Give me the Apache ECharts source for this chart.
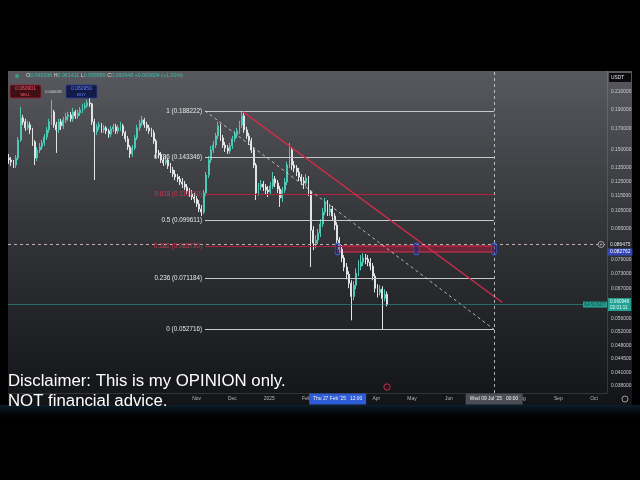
<!DOCTYPE html>
<html><head><meta charset="utf-8">
<script src="https://cdn.jsdelivr.net/npm/echarts@6/dist/echarts.min.js"></script>
<style>html,body{margin:0;padding:0;background:#000;}#c{width:640px;height:480px;}</style>
</head><body><div id="c"></div>
<script>
// ---------- DATA ----------
const candleStart = [2024, 5, 27];   // first candle date (y, m, d)
const candleStepDays = 2;            // 2-day candles
// [open, close, low, high]
const candles = [
[0.1431,0.1414,0.1382,0.1465],[0.1414,0.1398,0.1366,0.1439],[0.1398,0.1373,0.1350,0.1414],[0.1373,0.1431,0.1350,0.1456],
[0.1431,0.1589,0.1414,0.1617],[0.1589,0.1807,0.1571,0.1926],[0.1807,0.1766,0.1735,0.1839],[0.1766,0.1705,0.1675,0.1797],
[0.1705,0.1735,0.1685,0.1776],[0.1735,0.1685,0.1646,0.1766],[0.1685,0.1571,0.1535,0.1705],[0.1571,0.1431,0.1373,0.1589],
[0.1431,0.1499,0.1406,0.1526],[0.1499,0.1526,0.1473,0.1562],[0.1526,0.1562,0.1499,0.1589],[0.1562,0.1617,0.1535,0.1646],
[0.1617,0.1685,0.1589,0.1715],[0.1685,0.1766,0.1656,0.1797],[0.1766,0.1871,0.1735,0.2007],[0.1871,0.1735,0.1705,0.1893],
[0.1735,0.1685,0.1473,0.1766],[0.1685,0.1766,0.1656,0.1797],[0.1766,0.1725,0.1685,0.1797],[0.1725,0.1786,0.1695,0.1818],
[0.1786,0.1818,0.1755,0.1860],[0.1818,0.1839,0.1776,0.1871],[0.1839,0.1797,0.1766,0.1871],[0.1797,0.1871,0.1766,0.1915],
[0.1871,0.1828,0.1797,0.1893],[0.1828,0.1860,0.1797,0.1893],[0.1860,0.1893,0.1828,0.1926],[0.1893,0.1926,0.1860,0.1961],
[0.1926,0.1938,0.1893,0.1972],[0.1938,0.1972,0.1915,0.2007],[0.1972,0.1961,0.1926,0.2031],[0.1961,0.1766,0.1735,0.1972],
[0.1766,0.1666,0.1258,0.1797],[0.1666,0.1715,0.1636,0.1745],[0.1715,0.1735,0.1685,0.1766],[0.1735,0.1685,0.1656,0.1755],
[0.1685,0.1705,0.1656,0.1735],[0.1705,0.1675,0.1646,0.1725],[0.1675,0.1646,0.1608,0.1695],[0.1646,0.1695,0.1617,0.1725],
[0.1695,0.1715,0.1666,0.1745],[0.1715,0.1675,0.1646,0.1745],[0.1675,0.1705,0.1646,0.1735],[0.1705,0.1725,0.1675,0.1766],
[0.1725,0.1656,0.1627,0.1745],[0.1656,0.1599,0.1571,0.1675],[0.1599,0.1526,0.1499,0.1627],[0.1526,0.1465,0.1431,0.1543],
[0.1465,0.1517,0.1439,0.1543],[0.1517,0.1608,0.1499,0.1636],[0.1608,0.1705,0.1589,0.1735],[0.1705,0.1755,0.1675,0.1786],
[0.1755,0.1786,0.1725,0.1828],[0.1786,0.1735,0.1705,0.1807],[0.1735,0.1705,0.1675,0.1766],[0.1705,0.1675,0.1646,0.1735],
[0.1675,0.1656,0.1617,0.1705],[0.1656,0.1580,0.1553,0.1685],[0.1580,0.1473,0.1431,0.1599],[0.1473,0.1456,0.1431,0.1499],
[0.1456,0.1414,0.1390,0.1482],[0.1414,0.1390,0.1366,0.1439],[0.1390,0.1414,0.1373,0.1448],[0.1414,0.1366,0.1342,0.1431],
[0.1366,0.1334,0.1311,0.1390],[0.1334,0.1303,0.1281,0.1358],[0.1303,0.1281,0.1258,0.1334],[0.1281,0.1266,0.1244,0.1303],
[0.1266,0.1244,0.1222,0.1288],[0.1244,0.1229,0.1201,0.1273],[0.1229,0.1208,0.1187,0.1251],[0.1208,0.1180,0.1160,0.1229],
[0.1180,0.1160,0.1140,0.1201],[0.1160,0.1140,0.1120,0.1187],[0.1140,0.1127,0.1101,0.1167],[0.1127,0.1095,0.1076,0.1147],
[0.1095,0.1063,0.1044,0.1120],[0.1063,0.1044,0.1020,0.1088],[0.1044,0.1167,0.1032,0.1187],[0.1167,0.1296,0.1147,0.1319],
[0.1296,0.1414,0.1273,0.1448],[0.1414,0.1499,0.1390,0.1535],[0.1499,0.1543,0.1473,0.1580],[0.1543,0.1627,0.1517,0.1656],
[0.1627,0.1725,0.1599,0.1766],[0.1725,0.1608,0.1580,0.1745],[0.1608,0.1543,0.1517,0.1636],[0.1543,0.1517,0.1482,0.1571],
[0.1517,0.1490,0.1465,0.1543],[0.1490,0.1535,0.1465,0.1562],[0.1535,0.1599,0.1508,0.1627],[0.1599,0.1636,0.1571,0.1675],
[0.1636,0.1675,0.1608,0.1705],[0.1675,0.1735,0.1646,0.1776],[0.1735,0.1828,0.1705,0.188222],[0.1828,0.1685,0.1656,0.1860],
[0.1685,0.1627,0.1599,0.1715],[0.1627,0.1580,0.1543,0.1656],[0.1580,0.1499,0.1473,0.1608],[0.1499,0.1373,0.1350,0.1517],
[0.1373,0.1167,0.1120,0.1390],[0.1167,0.1208,0.1147,0.1237],[0.1208,0.1229,0.1187,0.1258],[0.1229,0.1208,0.1180,0.1251],
[0.1208,0.1187,0.1160,0.1229],[0.1187,0.1174,0.1140,0.1215],[0.1174,0.1215,0.1153,0.1244],[0.1215,0.1266,0.1194,0.1319],
[0.1266,0.1237,0.1208,0.1288],[0.1237,0.1194,0.1167,0.1258],[0.1194,0.1134,0.1076,0.1215],[0.1134,0.1187,0.1107,0.1208],
[0.1187,0.1244,0.1167,0.1273],[0.1244,0.1373,0.1222,0.1398],[0.1373,0.1499,0.1350,0.1562],[0.1499,0.1373,0.1334,0.1517],
[0.1373,0.1350,0.1319,0.1406],[0.1350,0.1319,0.1288,0.1373],[0.1319,0.1281,0.1251,0.1350],[0.1281,0.1251,0.1222,0.1303],
[0.1251,0.1237,0.1194,0.1281],[0.1237,0.1273,0.1215,0.1303],[0.1273,0.1174,0.1147,0.1288],[0.1174,0.0940,0.0758,0.1187],
[0.0940,0.0872,0.0837,0.0962],[0.0872,0.0887,0.0846,0.0913],[0.0887,0.0924,0.0866,0.0946],[0.0924,0.0974,0.0903,0.1002],
[0.0974,0.1044,0.0957,0.1069],[0.1044,0.1101,0.1026,0.1134],[0.1101,0.1044,0.1020,0.1120],[0.1044,0.1063,0.1020,0.1095],
[0.1063,0.1020,0.0997,0.1082],[0.1020,0.0968,0.0940,0.1038],[0.0968,0.0887,0.0866,0.0985],[0.0887,0.0841,0.0822,0.0903],
[0.0841,0.0799,0.0780,0.0861],[0.0799,0.0758,0.0740,0.0813],[0.0758,0.0727,0.0706,0.0776],[0.0727,0.0690,0.0670,0.0740],
[0.0690,0.0639,0.0556,0.0702],[0.0639,0.0682,0.0625,0.0698],[0.0682,0.0731,0.0666,0.0753],[0.0731,0.0762,0.0719,0.0789],
[0.0762,0.0780,0.0744,0.0813],[0.0780,0.0799,0.0762,0.0822],[0.0799,0.0794,0.0771,0.0818],[0.0794,0.0780,0.0762,0.0813],
[0.0780,0.0762,0.0744,0.0799],[0.0762,0.0719,0.0702,0.0776],[0.0719,0.0670,0.0654,0.0731],[0.0670,0.0654,0.0635,0.0686],
[0.0654,0.0666,0.0643,0.0682],[0.0666,0.0632,0.052716,0.0678],[0.0632,0.0647,0.0621,0.0666],[0.0647,0.060948,0.0603,0.0658]
];
const xRange = ['2024-05-26 10:00', '2025-10-11 22:00'];
const yRange = [0.03642, 0.2374];
const priceTicks = [0.21, 0.19, 0.17, 0.15, 0.135, 0.125, 0.115, 0.105, 0.095, 0.079, 0.073, 0.067, 0.056, 0.052, 0.048, 0.0445, 0.041, 0.038];
const monthTicks = ['2024-11-01','2024-12-01','2025-01-01','2025-02-01','2025-03-01','2025-04-01','2025-05-01','2025-06-01','2025-07-01','2025-08-01','2025-09-01','2025-10-01'];
const monthLabels = ['Nov','Dec','2025','Feb','Mar','Apr','May','Jun','Jul','Aug','Sep','Oct'];
const fibRatios = [1, 0.786, 0.618, 0.5, 0.382, 0.236, 0];
const fibPrices = [0.188222, 0.143346, 0.115740, 0.099611, 0.085720, 0.071184, 0.052716];
const fibSpan = ['2024-11-08', '2025-07-09'];
const trendTimes = ['2024-12-10', '2025-07-16'];
const trendPrices = [0.1871, 0.0617];
const zoneTimes = ['2025-02-27 12:00', '2025-07-09'];
const zonePrices = [0.085720, 0.082762];
const handleTimes = ['2025-02-27 12:00', '2025-05-04 18:00', '2025-07-09'];
const crossTime = '2025-07-09';
const crossPrice = 0.086475;
const lastPrice = 0.060948;
const countdown = '02:01:11';
const symbolName = 'KASUSDT';
const headerKeys = ['O', 'H', 'L', 'C'];
const headerVals = ['0.060036', '0.061411', '0.058589', '0.060948'];
const headerChange = '+0.000604 (+1.00%)';
const sellPrice = '0.060901', buyPrice = '0.060950', spread = '0.000049';
const timeTags = [["Thu 27 Feb '25", '12:00', '2025-02-27 12:00'], ["Wed 09 Jul '25", '00:00', '2025-07-09']];
const disclaimer = ['Disclaimer: This is my OPINION only.', 'NOT financial advice.'];

// ---------- HELPERS ----------
const FONT = 'Liberation Sans, Arial, sans-serif';
function ts(s) {
  const m = s.match(/(\d+)-(\d+)-(\d+)(?:\s+(\d+):(\d+))?/);
  return new Date(+m[1], +m[2] - 1, +m[3], m[4] ? +m[4] : 0, m[5] ? +m[5] : 0).getTime();
}
const candleData = candles.map((c, i) => {
  const t = new Date(candleStart[0], candleStart[1] - 1, candleStart[2] + i * candleStepDays).getTime();
  return [t, c[0], c[1], c[2], c[3]];
});
const monthMap = {};
monthTicks.forEach((m, i) => { monthMap[ts(m)] = monthLabels[i]; });
const X0 = ts(xRange[0]), X1 = ts(xRange[1]);

const WHITE_LINE = '#c8c9cc', RED_LINE = '#b5223f', RED_TEXT = '#d9324f';
const fibLines = fibRatios.map((r, i) => {
  const red = (r === 0.618 || r === 0.382);
  return [
    { coord: [ts(fibSpan[0]), fibPrices[i]],
      lineStyle: { color: red ? RED_LINE : WHITE_LINE, width: 1, type: 'solid' },
      label: { show: true, position: 'start', distance: 3, formatter: r + ' (' + fibPrices[i].toFixed(6) + ')',
               color: red ? RED_TEXT : '#e6e6e6', fontSize: 6.3, fontFamily: FONT } },
    { coord: [ts(fibSpan[1]), fibPrices[i]] }
  ];
});
const zoneMid = Math.sqrt(zonePrices[0] * zonePrices[1]);
function hLine(v, lineStyle, label) {
  return [ { coord: [X0, v], lineStyle: lineStyle, label: label }, { coord: [X1, v] } ];
}

const markLines = fibLines.concat([
  [ { coord: [ts(fibSpan[0]), fibPrices[0]], lineStyle: { color: 'rgba(215,215,215,0.8)', width: 1, type: [3, 3] }, label: { show: false } },
    { coord: [ts(fibSpan[1]), fibPrices[fibPrices.length - 1]] } ],
  [ { coord: [ts(trendTimes[0]), trendPrices[0]], lineStyle: { color: '#cf2c4c', width: 1.4, type: 'solid' }, label: { show: false } },
    { coord: [ts(trendTimes[1]), trendPrices[1]] } ],
  { xAxis: ts(crossTime), lineStyle: { color: 'rgba(225,225,225,0.75)', width: 1, type: [3, 3] }, label: { show: false } },
  hLine(crossPrice, { color: 'rgba(230,205,212,0.8)', width: 1, type: [3, 3] },
    { show: true, position: 'end', distance: 1, formatter: crossPrice.toFixed(6), color: '#e8e8e8', backgroundColor: '#26282d',
      padding: [1, 2], fontSize: 4.9, fontFamily: FONT }),
  hLine(zonePrices[1], { color: 'rgba(0,0,0,0)', width: 0.1 },
    { show: true, position: 'end', distance: 1, formatter: zonePrices[1].toFixed(6), color: '#ffffff', backgroundColor: '#3347b8',
      padding: [1, 2], fontSize: 4.9, fontFamily: FONT }),
  hLine(lastPrice, { color: 'rgba(38,166,154,0.55)', width: 1, type: 'solid' },
    { show: true, position: 'end', distance: 1, formatter: lastPrice.toFixed(6) + '\n' + countdown, color: '#dffcf7', backgroundColor: '#24a193',
      padding: [1, 2], fontSize: 4.6, lineHeight: 5.5, fontFamily: FONT })
]);

const chart = echarts.init(document.getElementById('c'), null, { renderer: 'canvas', width: 640, height: 480 });
const option = {
  backgroundColor: '#000',
  animation: false,
  grid: { left: 8, right: 33, top: 71, bottom: 87 },
  xAxis: {
    type: 'value', min: X0, max: X1,
    axisLine: { show: true, lineStyle: { color: 'rgba(255,255,255,0.13)' } },
    axisTick: { show: false }, splitLine: { show: false },
    axisLabel: { customValues: monthTicks.map(ts), formatter: v => monthMap[v] || '', color: '#b9bbc1', fontSize: 4.9, margin: 3.5, fontFamily: FONT }
  },
  yAxis: [
    { type: 'log', logBase: 10, position: 'right', min: yRange[0], max: yRange[1],
      axisLine: { show: true, lineStyle: { color: 'rgba(255,255,255,0.13)' } },
      axisTick: { show: false }, axisLabel: { show: false }, splitLine: { show: false } },
    { type: 'value', position: 'right', min: Math.log(yRange[0]), max: Math.log(yRange[1]),
      axisLine: { show: false }, axisTick: { show: false }, splitLine: { show: false },
      axisLabel: { customValues: priceTicks.map(Math.log), formatter: v => Math.exp(v).toFixed(6), color: '#c9cbd0', fontSize: 4.9, margin: 4, fontFamily: FONT } }
  ],
  series: [
    { type: 'candlestick', xAxisIndex: 0, yAxisIndex: 0, data: candleData, barWidth: 1.4,
      itemStyle: { color: '#4ec8b5', color0: '#e2e3e5', borderColor: '#4ec8b5', borderColor0: '#e2e3e5', borderWidth: 1 },
      markLine: { silent: true, symbol: ['none', 'none'], animation: false, data: markLines },
      markArea: { silent: true, data: [[
        { coord: [ts(zoneTimes[0]), zonePrices[0]], itemStyle: { color: 'rgba(170,28,58,0.5)', borderColor: '#d63352', borderWidth: 1 } },
        { coord: [ts(zoneTimes[1]), zonePrices[1]] } ]] } },
    { type: 'scatter', xAxisIndex: 0, yAxisIndex: 0, z: 6, silent: true,
      data: handleTimes.map(t => [ts(t), zoneMid]), symbol: 'roundRect', symbolSize: [5, 11],
      itemStyle: { color: 'rgba(25,35,110,0.55)', borderColor: '#4563e6', borderWidth: 1 } }
  ]
};
chart.setOption(option);

// ---------- DECORATIONS ----------
const px = v => chart.convertToPixel({ xAxisIndex: 0 }, v);
const py = v => chart.convertToPixel({ yAxisIndex: 0 }, v);
const g = [];
g.push({ type: 'rect', z: -100, silent: true, shape: { x: 8, y: 71, width: 624, height: 334 },
  style: { fill: { type: 'linear', x: 0, y: 0, x2: 0, y2: 1, colorStops: [
    { offset: 0, color: '#57595e' }, { offset: 0.45, color: '#34363a' }, { offset: 1, color: '#131417' } ] } } });
g.push({ type: 'rect', z: -100, silent: true, shape: { x: 0, y: 405, width: 640, height: 16 },
  style: { fill: { type: 'linear', x: 0, y: 0, x2: 0, y2: 1, colorStops: [
    { offset: 0, color: 'rgba(25,70,100,0.45)' }, { offset: 1, color: 'rgba(0,0,0,0)' } ] } } });
let rich = '';
headerKeys.forEach((k, i) => { rich += '{k|' + k + '}{v|' + headerVals[i] + '} '; });
rich += '{v|' + headerChange + '}';
g.push({ type: 'circle', z: 50, shape: { cx: 17, cy: 76, r: 2 }, style: { fill: '#3a9c90' } });
g.push({ type: 'text', z: 50, style: { x: 26, y: 76, text: rich, verticalAlign: 'middle', fontFamily: FONT, fontSize: 5.3,
  rich: { k: { fill: '#dcdcdc', fontSize: 5.3, fontFamily: FONT }, v: { fill: '#3fbcaa', fontSize: 5.3, fontFamily: FONT } } } });
g.push({ type: 'rect', z: 50, shape: { x: 10, y: 85, width: 31, height: 13, r: 1.5 }, style: { fill: '#3e1016', stroke: '#9e2030', lineWidth: 0.8 } });
g.push({ type: 'text', z: 51, style: { x: 25.5, y: 89, text: sellPrice, align: 'center', verticalAlign: 'middle', fill: '#ff5868', fontSize: 5, fontFamily: FONT } });
g.push({ type: 'text', z: 51, style: { x: 25.5, y: 94.5, text: 'SELL', align: 'center', verticalAlign: 'middle', fill: '#ff5868', fontSize: 4.3, fontFamily: FONT } });
g.push({ type: 'text', z: 51, style: { x: 53.5, y: 91.5, text: spread, align: 'center', verticalAlign: 'middle', fill: '#d8d8d8', fontSize: 4, fontFamily: FONT } });
g.push({ type: 'rect', z: 50, shape: { x: 66, y: 85, width: 31, height: 13, r: 1.5 }, style: { fill: '#121a48', stroke: '#2a3c9a', lineWidth: 0.8 } });
g.push({ type: 'text', z: 51, style: { x: 81.5, y: 89, text: buyPrice, align: 'center', verticalAlign: 'middle', fill: '#6c86ff', fontSize: 5, fontFamily: FONT } });
g.push({ type: 'text', z: 51, style: { x: 81.5, y: 94.5, text: 'BUY', align: 'center', verticalAlign: 'middle', fill: '#6c86ff', fontSize: 4.3, fontFamily: FONT } });
g.push({ type: 'rect', z: 50, shape: { x: 609, y: 73, width: 22, height: 9 }, style: { fill: '#0b0b0d' } });
g.push({ type: 'text', z: 51, style: { x: 611, y: 77.5, text: 'USDT', verticalAlign: 'middle', fill: '#e6e6e6', fontSize: 4.9, fontFamily: FONT } });
const yl = py(lastPrice);
g.push({ type: 'rect', z: 50, shape: { x: 583, y: yl - 3, width: 24, height: 6 }, style: { fill: '#24a193' } });
g.push({ type: 'text', z: 51, style: { x: 595, y: yl, text: symbolName, align: 'center', verticalAlign: 'middle', fill: '#0c4a43', fontSize: 4.5, fontFamily: FONT } });
const yc = py(crossPrice);
g.push({ type: 'circle', z: 50, shape: { cx: 601, cy: yc, r: 3 }, style: { fill: '#2a2c31', stroke: '#cfcfcf', lineWidth: 0.7 } });
g.push({ type: 'text', z: 51, style: { x: 601, y: yc, text: '+', align: 'center', verticalAlign: 'middle', fill: '#dcdcdc', fontSize: 5, fontFamily: FONT } });
timeTags.forEach((t, i) => {
  const cx = px(ts(t[2]));
  g.push({ type: 'rect', z: 50, shape: { x: cx - 28.5, y: 393.5, width: 57, height: 11 }, style: { fill: i === 0 ? '#2e5bd6' : '#4b4e56' } });
  g.push({ type: 'text', z: 51, style: { x: cx, y: 399, text: t[0] + '   ' + t[1], align: 'center', verticalAlign: 'middle', fill: '#f2f2f2', fontSize: 4.9, fontFamily: FONT } });
});
const xl = px(candleData[candleData.length - 1][0]);
g.push({ type: 'circle', z: 50, shape: { cx: xl, cy: 387, r: 3.2 }, style: { fill: '#2a1418', stroke: '#c43a55', lineWidth: 0.9 } });
g.push({ type: 'circle', z: 50, shape: { cx: 625, cy: 399, r: 3 }, style: { fill: 'none', stroke: '#bdbdbd', lineWidth: 0.8 } });
g.push({ type: 'text', z: 100, style: { x: 8, y: 381, text: disclaimer[0], verticalAlign: 'middle', fill: '#ffffff', fontSize: 16.8, fontFamily: FONT } });
g.push({ type: 'text', z: 100, style: { x: 8, y: 401, text: disclaimer[1], verticalAlign: 'middle', fill: '#ffffff', fontSize: 16.8, fontFamily: FONT } });
chart.setOption({ graphic: g });
</script></body></html>
